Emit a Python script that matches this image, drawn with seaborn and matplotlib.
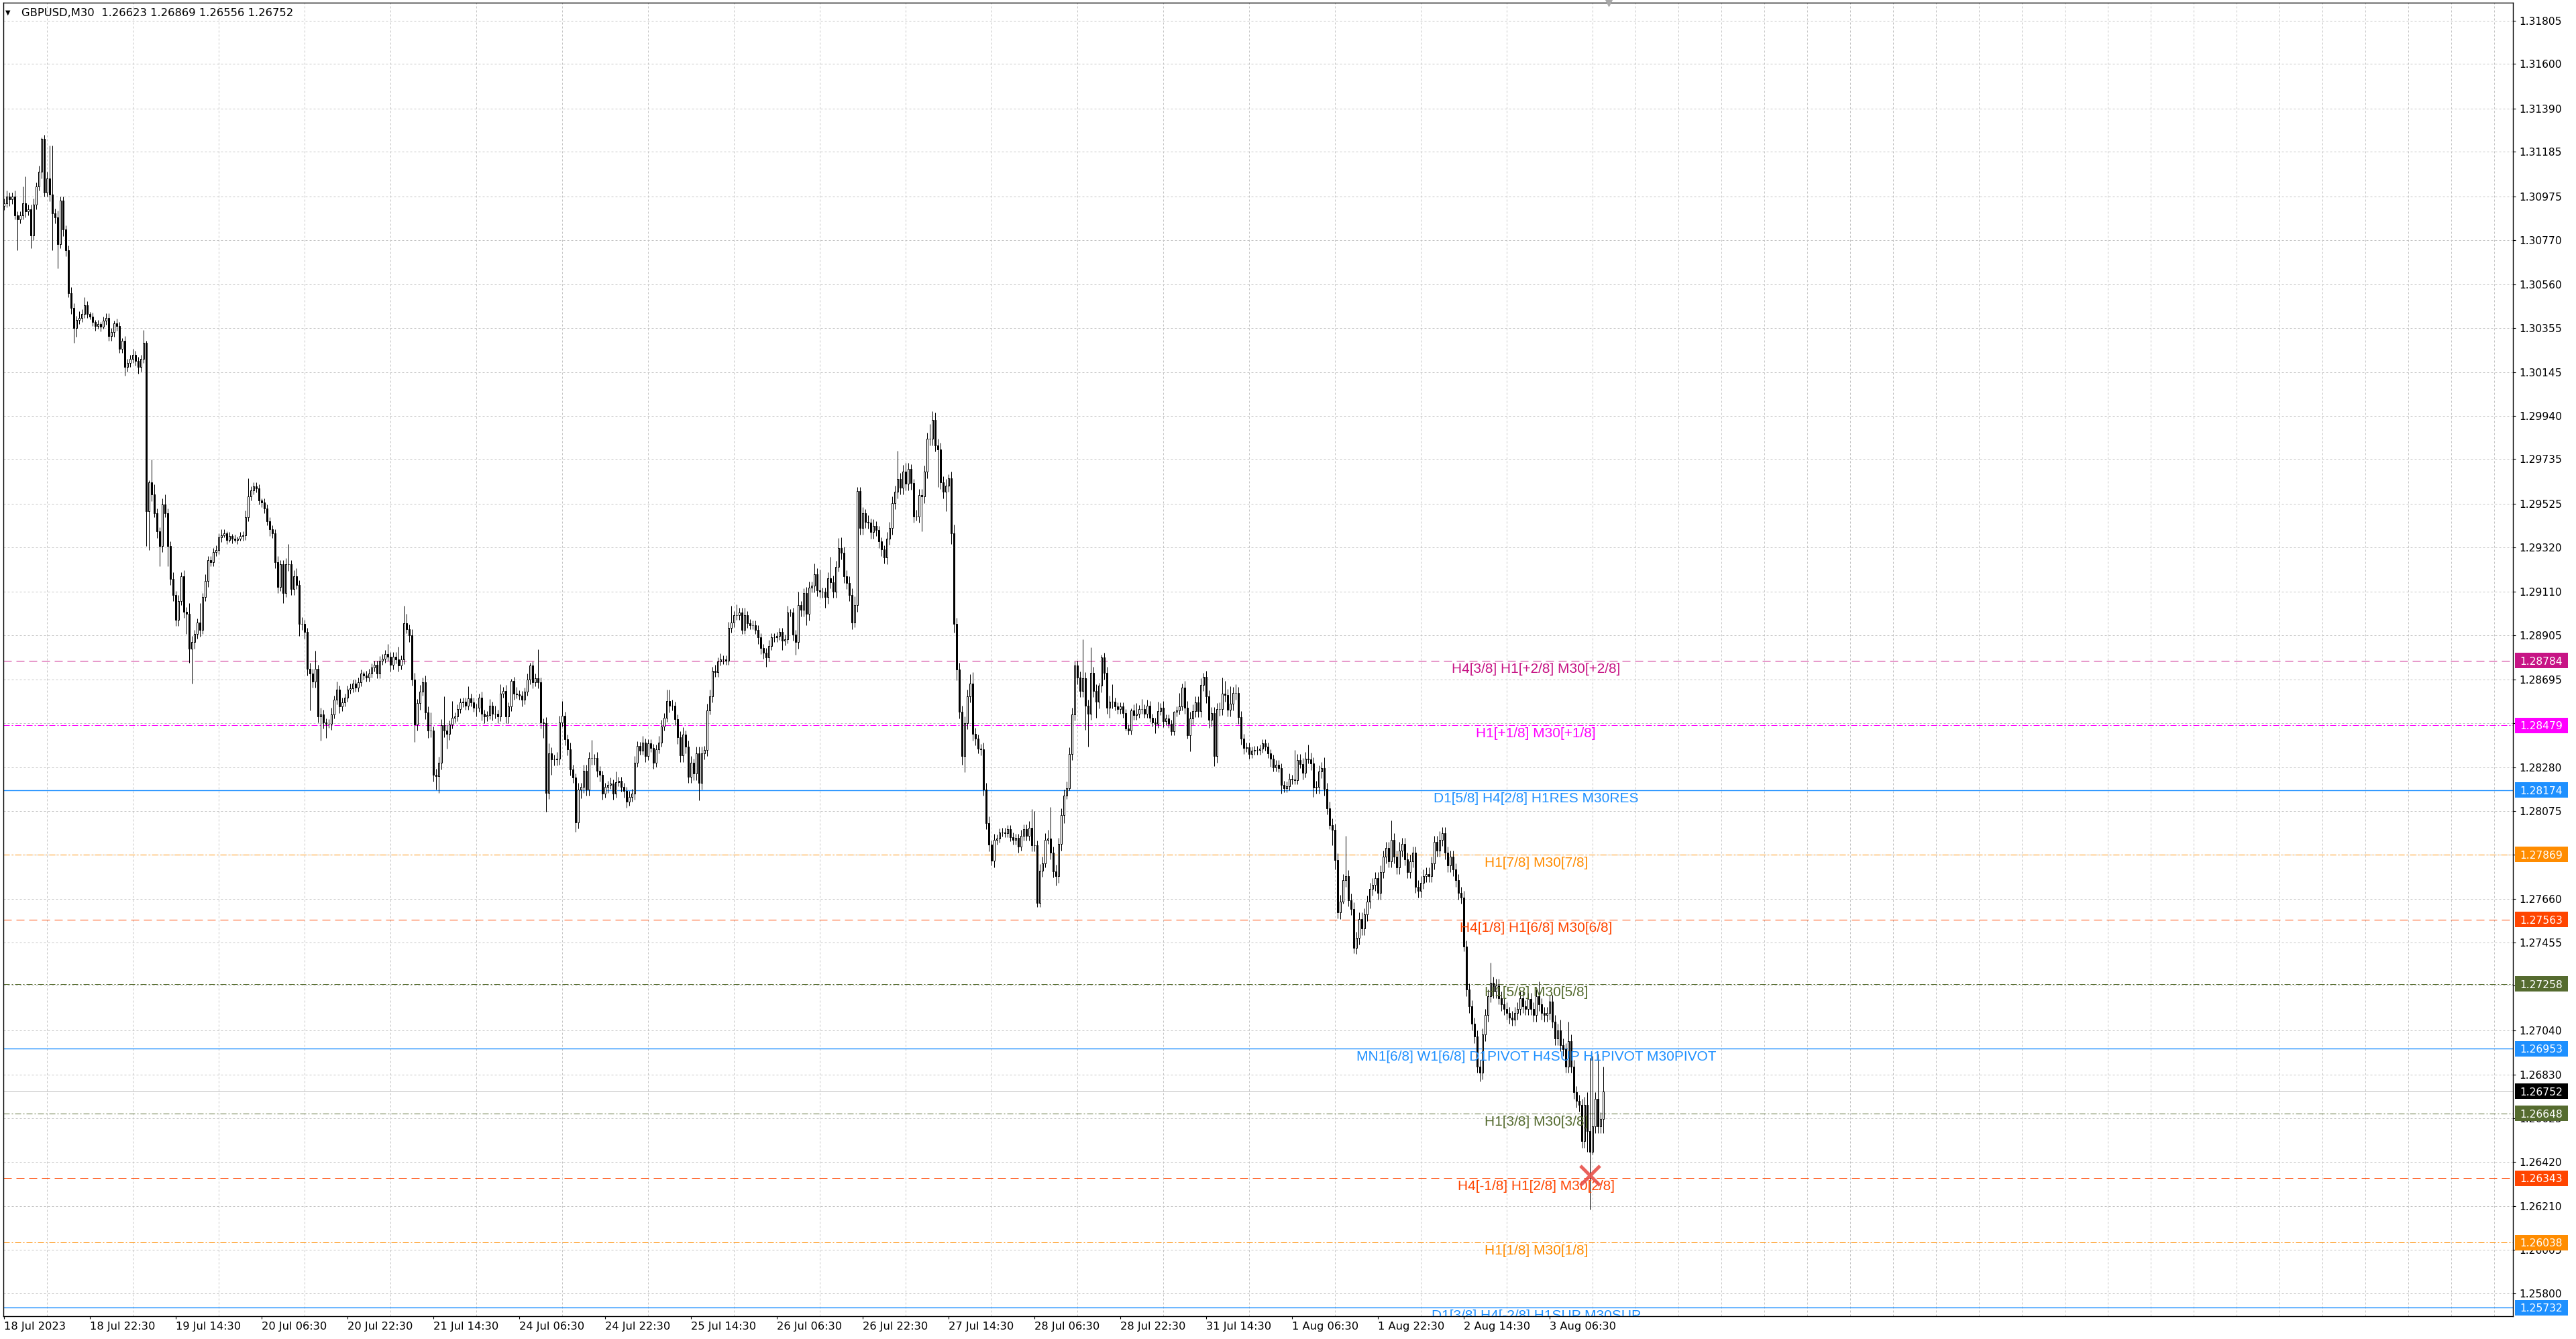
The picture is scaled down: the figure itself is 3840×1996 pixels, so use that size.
import numpy as np
import seaborn as sns
import matplotlib
matplotlib.use("Agg")
import matplotlib.pyplot as plt
from matplotlib.patches import Rectangle
from matplotlib.transforms import blended_transform_factory

# ---- data ----
title_text = "GBPUSD,M30  1.26623 1.26869 1.26556 1.26752"

first_open = 1.30930
close = [
    1.30944, 1.30973, 1.30960, 1.30973, 1.30886, 1.30867, 1.30886, 1.30944, 1.30906, 1.30915,
    1.30789, 1.30935, 1.31022, 1.31090, 1.31245, 1.30993, 1.31061, 1.30983, 1.30896, 1.30877,
    1.30751, 1.30954, 1.30818, 1.30722, 1.30518, 1.30450, 1.30353, 1.30392, 1.30402, 1.30421,
    1.30460, 1.30421, 1.30406, 1.30382, 1.30362, 1.30372, 1.30359, 1.30388, 1.30402, 1.30315,
    1.30334, 1.30377, 1.30362, 1.30256, 1.30295, 1.30169, 1.30189, 1.30208, 1.30227, 1.30198,
    1.30169, 1.30208, 1.30285, 1.29491, 1.29627, 1.29568, 1.29481, 1.29394, 1.29326, 1.29520,
    1.29481, 1.29326, 1.29171, 1.29094, 1.28977, 1.29065, 1.29181, 1.29016, 1.29006, 1.28842,
    1.28871, 1.28909, 1.28964, 1.28929, 1.29084, 1.29161, 1.29258, 1.29249, 1.29297, 1.29307,
    1.29365, 1.29375, 1.29384, 1.29355, 1.29371, 1.29359, 1.29355, 1.29359, 1.29371, 1.29375,
    1.29462, 1.29559, 1.29588, 1.29607, 1.29597, 1.29540, 1.29530, 1.29501, 1.29442, 1.29404,
    1.29384, 1.29249, 1.29132, 1.29239, 1.29103, 1.29239, 1.29239, 1.29123, 1.29181, 1.29142,
    1.28958, 1.28958, 1.28919, 1.28745, 1.28725, 1.28687, 1.28745, 1.28522, 1.28532, 1.28493,
    1.28487, 1.28487, 1.28532, 1.28599, 1.28648, 1.28567, 1.28588, 1.28609, 1.28648, 1.28655,
    1.28676, 1.28657, 1.28683, 1.28722, 1.28715, 1.28706, 1.28725, 1.28752, 1.28764, 1.28722,
    1.28785, 1.28794, 1.28815, 1.28804, 1.28764, 1.28804, 1.28791, 1.28762, 1.28789, 1.28960,
    1.28934, 1.28903, 1.28696, 1.28483, 1.28583, 1.28639, 1.28683, 1.28539, 1.28453, 1.28453,
    1.28245, 1.28240, 1.28301, 1.28479, 1.28453, 1.28440, 1.28483, 1.28514, 1.28520, 1.28557,
    1.28586, 1.28591, 1.28572, 1.28607, 1.28588, 1.28562, 1.28562, 1.28609, 1.28533, 1.28520,
    1.28527, 1.28572, 1.28533, 1.28533, 1.28520, 1.28630, 1.28641, 1.28520, 1.28567, 1.28688,
    1.28630, 1.28625, 1.28620, 1.28599, 1.28638, 1.28694, 1.28762, 1.28683, 1.28702, 1.28683,
    1.28493, 1.28488, 1.28161, 1.28346, 1.28319, 1.28319, 1.28322, 1.28493, 1.28523, 1.28414,
    1.28367, 1.28272, 1.28232, 1.28021, 1.28177, 1.28189, 1.28263, 1.28177, 1.28324, 1.28324,
    1.28324, 1.28266, 1.28245, 1.28158, 1.28189, 1.28198, 1.28203, 1.28158, 1.28211, 1.28217,
    1.28187, 1.28168, 1.28119, 1.28140, 1.28158, 1.28303, 1.28382, 1.28361, 1.28398, 1.28335,
    1.28393, 1.28372, 1.28303, 1.28367, 1.28398, 1.28474, 1.28516, 1.28593, 1.28570, 1.28570,
    1.28509, 1.28422, 1.28337, 1.28435, 1.28378, 1.28236, 1.28303, 1.28251, 1.28348, 1.28206,
    1.28348, 1.28363, 1.28550, 1.28617, 1.28736, 1.28729, 1.28781, 1.28789, 1.28789, 1.28784,
    1.28938, 1.28963, 1.28998, 1.28998, 1.29013, 1.28930, 1.28998, 1.28960, 1.28953, 1.28953,
    1.28930, 1.28893, 1.28844, 1.28823, 1.28799, 1.28853, 1.28893, 1.28893, 1.28901, 1.28919,
    1.28878, 1.28886, 1.29013, 1.29013, 1.28908, 1.28871, 1.29046, 1.29023, 1.29102, 1.29005,
    1.29128, 1.29137, 1.29192, 1.29117, 1.29110, 1.29110, 1.29083, 1.29173, 1.29155, 1.29110,
    1.29226, 1.29316, 1.29292, 1.29182, 1.29152, 1.29095, 1.28963, 1.29046, 1.29585, 1.29409,
    1.29480, 1.29439, 1.29436, 1.29391, 1.29421, 1.29401, 1.29346, 1.29309, 1.29271, 1.29361,
    1.29409, 1.29528, 1.29580, 1.29640, 1.29600, 1.29677, 1.29618, 1.29689, 1.29621, 1.29465,
    1.29465, 1.29565, 1.29558, 1.29675, 1.29830, 1.29830, 1.29920, 1.29800, 1.29782, 1.29625,
    1.29580, 1.29610, 1.29645, 1.29386, 1.28957, 1.28744, 1.28542, 1.28333, 1.28490, 1.28617,
    1.28677, 1.28438, 1.28415, 1.28370, 1.28366, 1.28176, 1.28019, 1.27915, 1.27840, 1.27937,
    1.27945, 1.27974, 1.27974, 1.27970, 1.27989, 1.27952, 1.27937, 1.27947, 1.27907, 1.27956,
    1.27990, 1.27956, 1.27996, 1.27914, 1.27914, 1.27642, 1.27793, 1.27829, 1.27940, 1.27946,
    1.27877, 1.27790, 1.27766, 1.27919, 1.28056, 1.28146, 1.28183, 1.28344, 1.28531, 1.28763,
    1.28703, 1.28642, 1.28700, 1.28570, 1.28534, 1.28726, 1.28642, 1.28589, 1.28665, 1.28800,
    1.28726, 1.28563, 1.28589, 1.28589, 1.28568, 1.28555, 1.28568, 1.28536, 1.28463, 1.28454,
    1.28549, 1.28526, 1.28534, 1.28555, 1.28557, 1.28534, 1.28573, 1.28515, 1.28494, 1.28486,
    1.28547, 1.28563, 1.28499, 1.28510, 1.28486, 1.28452, 1.28542, 1.28549, 1.28568, 1.28658,
    1.28563, 1.28431, 1.28513, 1.28547, 1.28587, 1.28547, 1.28671, 1.28707, 1.28615, 1.28505,
    1.28536, 1.28334, 1.28555, 1.28557, 1.28629, 1.28621, 1.28552, 1.28581, 1.28631, 1.28631,
    1.28517, 1.28418, 1.28373, 1.28376, 1.28344, 1.28359, 1.28362, 1.28362, 1.28369, 1.28394,
    1.28378, 1.28346, 1.28320, 1.28281, 1.28294, 1.28278, 1.28197, 1.28183, 1.28193, 1.28225,
    1.28222, 1.28220, 1.28315, 1.28296, 1.28254, 1.28323, 1.28319, 1.28299, 1.28186, 1.28188,
    1.28260, 1.28278, 1.28178, 1.28088, 1.28009, 1.27986, 1.27845, 1.27597, 1.27648, 1.27747,
    1.27766, 1.27655, 1.27613, 1.27429, 1.27475, 1.27566, 1.27520, 1.27586, 1.27646, 1.27707,
    1.27727, 1.27757, 1.27687, 1.27788, 1.27858, 1.27899, 1.27838, 1.27939, 1.27858, 1.27808,
    1.27889, 1.27919, 1.27848, 1.27788, 1.27838, 1.27878, 1.27717, 1.27697, 1.27737, 1.27768,
    1.27778, 1.27768, 1.27828, 1.27929, 1.27889, 1.27939, 1.27969, 1.27878, 1.27818, 1.27858,
    1.27798, 1.27747, 1.27687, 1.27667, 1.27434, 1.27232, 1.27152, 1.27071, 1.27010, 1.26869,
    1.26839, 1.27020, 1.27111, 1.27202, 1.27263, 1.27222, 1.27253, 1.27192, 1.27162, 1.27142,
    1.27121, 1.27101, 1.27091, 1.27121, 1.27142, 1.27192, 1.27152, 1.27142, 1.27188, 1.27142,
    1.27111, 1.27202, 1.27162, 1.27121, 1.27111, 1.27121, 1.27176, 1.27081, 1.27000, 1.27040,
    1.26970, 1.26950, 1.26869, 1.26990, 1.26869, 1.26748, 1.26707, 1.26687, 1.26516, 1.26687,
    1.26566, 1.26465, 1.26586, 1.26718, 1.26586, 1.26623, 1.26752,
]

# wick lengths beyond the body, in pips
wick_up_pips = [
    2, 3, 2, 2, 3, 2, 2, 7.8, 12.6, 2, 2, 3, 2, 3, 0.9, 2, 3, 15.5, 23.3, 2,
    3, 2, 1.9, 2, 2, 3, 2, 2, 3, 2, 3.9, 2, 1, 2, 1, 2, 1, 2, 2, 2,
    2, 1, 2, 2, 1, 2, 2, 2, 3, 2, 2, 2, 5.9, 1, 0.9, 10.6, 4.9, 2, 2, 3,
    4.8, 2, 2, 3, 2, 3, 2, 2.9, 2, 4.9, 3, 2, 2, 9.1, 2, 3, 2, 2, 2, 2,
    2, 2.9, 2, 1, 2, 1, 2, 1, 2, 2, 3, 8.7, 2, 2, 2, 2, 1, 2, 2, 2,
    2, 2, 3, 2, 2, 3, 9.7, 2, 3, 4, 2, 3, 2, 2, 3, 2, 8.7, 2, 3, 2,
    2, 2, 3, 2, 3.9, 2, 2, 2, 2, 2, 2, 2, 2, 2, 1, 2, 2, 2, 2, 2,
    2, 2, 2, 4.8, 2, 2, 2, 5.8, 2, 8.2, 4.5, 2, 3, 3, 2, 3, 2, 3, 3, 8.7,
    2, 3, 3, 3, 13.6, 3, 2, 7.9, 2, 2, 2, 2, 2, 5.5, 2, 2, 2, 2, 3, 2,
    2, 3, 2, 4, 2, 4.3, 2, 3, 2, 1.1, 2, 3, 2, 2, 2, 3, 1.1, 2, 2, 13.7,
    2, 2, 3, 4.7, 3, 2, 3, 3, 7.0, 2, 2, 3, 2, 2, 3, 2, 3, 3, 3, 8.5,
    2, 3, 2, 2, 2, 2, 3, 2, 5.0, 2, 2, 2, 2, 3, 2, 3, 2.2, 2, 3.0, 2,
    2, 2, 2, 2, 3, 3, 2, 5.3, 5.3, 3, 2, 2, 3, 3.5, 2, 3, 3, 2, 3, 3,
    3, 2, 3, 3, 2, 3, 2, 3, 2, 2, 3, 8.0, 2, 5.2, 2, 2, 3.7, 2, 2, 2,
    2, 2, 2, 2, 2, 3, 2, 2, 2, 2, 2, 2, 3, 1.5, 2, 2, 6.4, 2, 2.3, 3,
    3, 2, 5.2, 3, 9.7, 2, 2, 3, 10.1, 3, 3, 4.8, 5.1, 3, 3, 3, 3, 4, 1.8, 1.8,
    3, 2, 3, 2, 3, 2, 2, 2, 2, 3, 3, 3, 3, 13.5, 3, 3, 4, 3, 2.1, 2,
    3, 3, 3, 3, 3, 7.2, 4.1, 3.4, 3, 3, 3, 3, 1.8, 3, 4, 3, 3, 3, 3, 3,
    4.4, 5.2, 3, 2, 2, 3, 3, 3, 2, 3, 2, 1.8, 2, 2, 2, 2, 2, 2, 2, 3,
    2, 2, 3, 8.9, 16.0, 2, 3, 3, 3, 4, 14.7, 3, 3, 3, 3, 3, 3, 3, 3, 1.8,
    2.1, 3, 18.5, 3, 3, 12.2, 3, 3, 1.4, 1.1, 2.1, 3, 3, 8.4, 2, 2, 2, 2, 2, 2,
    1.1, 3, 5.0, 2, 4.5, 2, 2.7, 2, 2, 2, 4.2, 2, 3, 2, 2, 2, 0.5, 2, 6.3, 1.8,
    3, 3, 3, 3, 2.8, 3, 3, 1.9, 3, 3, 3, 3, 3, 3, 7.6, 6.0, 3, 8.2, 3, 4.3,
    3, 3, 2, 2, 2, 2, 2, 2, 2, 1.8, 2, 2, 2, 2, 2, 2, 2, 2, 2, 2.6,
    2, 14.0, 3, 3, 3, 3, 6.6, 3, 3, 3, 3, 2.8, 4.9, 3, 3, 3, 3, 3, 3, 3,
    19.0, 3, 3, 3, 3, 3, 3, 3, 3, 3, 3, 3, 3, 3, 3, 3, 3, 9.1, 3, 3,
    4, 3, 3, 3, 3, 3, 3, 3, 3, 3, 3, 3, 3, 3, 3, 4, 3, 3, 3, 3,
    3, 3, 3, 3, 3, 3, 3, 3, 3, 3, 3, 3, 3, 3, 9.5, 3, 3, 3, 3, 3,
    3, 3, 3, 3, 3, 3, 3, 3, 3, 3, 3, 3, 7.0, 3, 3, 3, 3, 3, 3, 3,
    5.0, 3, 3, 9.0, 3, 3, 3, 3, 3, 4, 6, 34.3, 33.3, 3, 21.0, 3, 11.7,
]
wick_dn_pips = [
    2, 2, 3, 2, 2, 14.5, 2, 2, 3, 2, 5.8, 2, 2, 2, 3, 2, 2, 3, 17.4, 3,
    11.7, 2, 3, 3, 2, 3, 6.8, 4, 2, 2, 2, 2, 1, 2, 2, 1, 2, 1, 2, 2,
    2, 2, 2, 2, 2, 3.9, 2, 2, 2, 2, 3, 2, 2, 16.5, 18.4, 3, 2, 3, 9.7, 3,
    2, 9.7, 3, 3, 3, 3, 2, 3, 9.6, 6.8, 16.5, 3, 2, 3, 2, 2, 3, 2, 2, 2,
    2, 2, 1, 2, 1, 2, 1, 2, 1, 2, 2, 2, 2, 2, 2, 2, 2, 2, 2, 3,
    2, 3, 3, 2, 4.8, 2, 3, 3.0, 3, 2, 5.8, 3, 3, 3, 17.5, 3, 3, 3, 11.6, 3,
    6.7, 2, 3, 2, 2, 3, 2, 2, 2, 2, 2, 2, 2, 2, 2, 2, 2, 2, 2, 2,
    2, 2, 2, 2, 3, 2, 2, 3, 2, 2, 2, 3, 3, 8.2, 3, 3, 2, 3, 3.3, 3,
    3, 6.3, 7.9, 3, 3, 7.1, 3, 2, 2, 2, 2, 2, 2, 2, 2, 2, 4.2, 2, 3, 3,
    2, 2, 3, 2, 3, 2, 2, 3, 3, 2, 3, 2, 2, 3.2, 2, 2, 2, 3, 2, 3,
    3, 6.9, 9.0, 3, 7.4, 3, 3, 3, 2, 3, 3, 3, 2.4, 4.3, 3, 4.2, 3, 3, 3, 3,
    3, 3, 3, 3, 2, 3, 2, 3, 2, 2, 2, 3, 2.7, 2, 2, 3, 2, 2, 2, 3,
    2, 2, 3, 2, 2, 2, 2, 2, 3, 2, 3, 3, 3, 3, 3, 3, 3, 3, 3, 8.2,
    3, 3, 3, 2, 3, 2, 2, 2, 2, 2, 2, 2, 2, 2, 2, 2, 2, 2, 2, 2,
    2, 3, 3, 3, 4.5, 2, 2, 2, 2, 2, 4.5, 2, 2, 2, 3, 6.0, 3, 3, 3, 5.2,
    3, 2, 3, 3, 3, 3, 4.8, 3, 3, 3, 3, 2, 3, 3, 3, 3, 3, 2.0, 3, 3,
    3, 3, 3, 3, 3, 3, 3, 3, 2.7, 3, 3, 3, 3, 3, 3, 3, 3, 3, 3, 3,
    1.9, 3, 16.4, 3, 3, 3, 3, 3, 17.9, 3, 3, 8.9, 3, 5.2, 4, 5.3, 3, 4, 7.5, 3,
    3, 3, 3, 2.2, 3, 3, 3.0, 3, 2.2, 3, 2, 2, 2, 2, 2, 2, 2, 2, 3.0, 2,
    2, 2, 2, 3, 3, 2, 2, 3, 2, 2, 3, 3, 4.2, 3, 3, 3.7, 1.6, 1, 3, 3,
    3, 3, 3, 11.3, 15.4, 3, 3, 7.4, 3, 3, 3, 3, 4.8, 3, 2, 2, 2, 2, 1, 2,
    2, 2, 2, 2, 2, 2, 2, 2, 2, 4.5, 2, 2, 3, 2, 2, 2, 2, 2, 2, 2,
    3, 1.6, 7.4, 3, 3, 3, 3, 3, 3, 3.7, 3, 4.6, 3, 3, 3, 3, 3, 3, 3, 3,
    3, 3, 3, 2, 2.4, 2, 2, 2, 2, 2, 2, 2, 3.7, 2, 2, 2, 4.0, 2, 2, 2,
    2, 2, 2, 2, 3, 2, 2, 3, 4.5, 3, 3, 3, 3, 3, 2.1, 7.2, 4.7, 3, 3.1, 1,
    3, 3, 3, 2.5, 3, 3, 3, 3, 3, 3, 3, 3, 3, 3, 3, 3, 3, 3, 3, 3,
    3, 3, 3, 3, 3, 3, 3, 3, 3, 3, 3, 3, 3, 3, 3, 3, 3, 3, 3, 3,
    3, 3, 3, 3, 2, 3, 3, 3, 3, 3, 4.1, 3, 3, 3, 3, 3, 3, 3, 3, 3,
    3, 3, 3, 3, 3, 3, 3, 3, 3, 3, 3, 3, 3, 3, 3, 3, 3, 3, 3, 3,
    3, 3, 3, 3, 3, 3, 3, 3, 3, 3, 10, 27.2, 1, 3, 3, 3, 6.7,
]

time_labels = ["18 Jul 2023", "18 Jul 22:30", "19 Jul 14:30", "20 Jul 06:30",
               "20 Jul 22:30", "21 Jul 14:30", "24 Jul 06:30", "24 Jul 22:30",
               "25 Jul 14:30", "26 Jul 06:30", "26 Jul 22:30", "27 Jul 14:30",
               "28 Jul 06:30", "28 Jul 22:30", "31 Jul 14:30", "1 Aug 06:30",
               "1 Aug 22:30", "2 Aug 14:30", "3 Aug 06:30"]
bars_per_label = 32

price_ticks = [1.31805, 1.31600, 1.31390, 1.31185, 1.30975, 1.30770, 1.30560, 1.30355,
               1.30145, 1.29940, 1.29735, 1.29525, 1.29320, 1.29110, 1.28905, 1.28695,
               1.28490, 1.28280, 1.28075, 1.27870, 1.27660, 1.27455, 1.27250, 1.27040,
               1.26830, 1.26625, 1.26420, 1.26210, 1.26005, 1.25800]

level_prices = [1.28784, 1.28479, 1.28174, 1.27869, 1.27563, 1.27258,
                1.26953, 1.26648, 1.26343, 1.26038, 1.25732]
level_names = ["H4[3/8] H1[+2/8] M30[+2/8]", "H1[+1/8] M30[+1/8]",
               "D1[5/8] H4[2/8] H1RES M30RES", "H1[7/8] M30[7/8]",
               "H4[1/8] H1[6/8] M30[6/8]", "H1[5/8] M30[5/8]",
               "MN1[6/8] W1[6/8] D1PIVOT H4SUP H1PIVOT M30PIVOT", "H1[3/8] M30[3/8]",
               "H4[-1/8] H1[2/8] M30[2/8]", "H1[1/8] M30[1/8]",
               "D1[3/8] H4[-2/8] H1SUP M30SUP"]
level_kinds = ["+2/8", "+1/8", "res", "7/8", "6/8", "5/8", "pivot", "3/8", "2/8", "1/8", "sup"]
current_price = 1.26752
signal_bar = [591]
signal_price = [1.26356]

# ---- styling ----
PX = 0.72  # points per pixel at dpi 100
DASH = (0, (12 * PX, 7 * PX))
DASHDOT = (0, (9 * PX, 3 * PX, 2 * PX, 3 * PX))
KIND_STYLE = {
    "+2/8": ("#C71585", DASH),
    "+1/8": ("#FF00FF", DASHDOT),
    "res": ("#1E90FF", "-"),
    "7/8": ("#FF8C00", DASHDOT),
    "6/8": ("#FF4500", DASH),
    "5/8": ("#556B2F", DASHDOT),
    "pivot": ("#1E90FF", "-"),
    "3/8": ("#556B2F", DASHDOT),
    "2/8": ("#FF4500", DASH),
    "1/8": ("#FF8C00", DASHDOT),
    "sup": ("#1E90FF", "-"),
}

sns.set_theme(style="white")
plt.rcParams["font.family"] = ["DejaVu Sans"]
plt.rcParams["lines.scale_dashes"] = False

W, H = 3840, 1996
fig = plt.figure(figsize=(W / 100, H / 100), dpi=100)
fig.patch.set_facecolor("white")
ax_l, ax_r, ax_t, ax_b = 4.5, 3746, 4, 1962
ax = fig.add_axes([ax_l / W, 1 - ax_b / H, (ax_r - ax_l) / W, (ax_b - ax_t) / H])
ax.set_facecolor("white")

x0_px, bar_px = 5.8, 4.0
ax.set_xlim((ax_l - x0_px) / bar_px, (ax_r - x0_px) / bar_px)
y_top, y_bot = 1.31889, 1.25691
ax.set_ylim(y_bot, y_top)
px_per_price = (ax_b - ax_t) / (y_top - y_bot)

# candles
c = np.array(close)
o = np.r_[first_open, c[:-1]]
idx = np.arange(len(c))
hi = np.maximum(o, c) + np.array(wick_up_pips) * 1e-4
lo = np.minimum(o, c) - np.array(wick_dn_pips) * 1e-4
up = c >= o

ax.vlines(idx, lo, hi, color="black", lw=1.0 * PX, zorder=3)
ax.bar(idx, c - o, bottom=o, width=0.55,
       color=np.where(up, "white", "black"), edgecolor="black",
       linewidth=1.0 * PX, zorder=4)

# level lines and labels
label_bar = 571
for price, name, kind in zip(level_prices, level_names, level_kinds):
    col, ls = KIND_STYLE[kind]
    lw = 1.4 * PX if ls == "-" else 1.0 * PX
    ax.axhline(price, color=col, lw=lw, linestyle=ls, zorder=2)
    ax.text(label_bar, price - 3 / px_per_price, name, color=col, ha="center", va="top",
            fontsize=15, family=["Liberation Sans", "DejaVu Sans"], clip_on=True, zorder=5)
ax.axhline(current_price, color="#C0C0C0", lw=1.0 * PX, zorder=2)

# signal cross
ax.scatter(signal_bar, signal_price, marker="x", s=(21) ** 2, linewidths=3.6,
           color="#E8504A", alpha=0.9, zorder=6)

# chart shift marker at top
ax.plot([len(c) + 1], [y_top], marker="v", ms=7, color="#A8A8A8", clip_on=False, zorder=7)

# grid
grid_kw = dict(color="#C4C4C4", lw=1.0 * PX, linestyle=(0, (3 * PX, 3 * PX)))
ax.set_yticks(price_ticks)
ax.set_yticklabels([f"{p:.5f}" for p in price_ticks])
ax.yaxis.tick_right()
ax.yaxis.grid(True, **grid_kw)
label_pos = np.arange(len(time_labels)) * bars_per_label
ax.set_xticks(label_pos)
ax.set_xticklabels(time_labels, ha="left")
ax.set_xticks(np.arange(16, ax.get_xlim()[1], 16), minor=True)
ax.xaxis.grid(True, which="minor", **grid_kw)
ax.xaxis.grid(False, which="major")
ax.set_axisbelow(True)

ax.tick_params(axis="y", which="major", length=3, width=0.8, pad=4, labelsize=11.2,
               colors="black", right=True, left=False)
ax.tick_params(axis="x", which="major", length=3, width=0.8, pad=3, labelsize=11.7,
               colors="black", bottom=True)
ax.tick_params(axis="x", which="minor", length=0)
for s in ax.spines.values():
    s.set_visible(True)
    s.set_color("black")
    s.set_linewidth(1.0)

# coloured price boxes on the right scale
tr = blended_transform_factory(fig.transFigure, ax.transData)
box_h = 23 / px_per_price
for price, kind in list(zip(level_prices, level_kinds)) + [(current_price, None)]:
    col = "black" if kind is None else KIND_STYLE[kind][0]
    fig.add_artist(Rectangle((3749 / W, price - box_h / 2), 79 / W, box_h,
                             transform=tr, facecolor=col, edgecolor="none", zorder=5))
    fig.text(3756 / W, price, f"{price:.5f}", transform=tr, color="white",
             fontsize=11.2, va="center_baseline", ha="left", zorder=6)

# title
fig.text(8 / W, 1 - 19 / H, "\u25BC", fontsize=7, va="center", ha="left", color="black")
fig.text(31.5 / W, 1 - 19 / H, title_text, fontsize=11.8, va="center", ha="left", color="black")

fig.savefig("out.png", dpi=100, facecolor="white")
